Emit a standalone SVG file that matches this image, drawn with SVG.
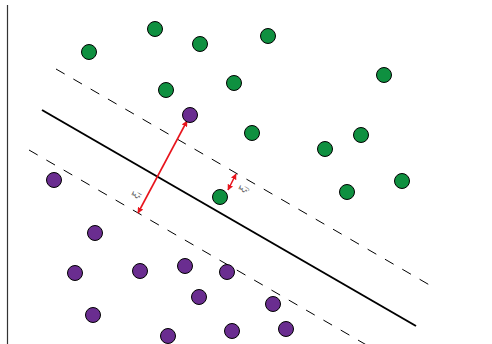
<svg xmlns="http://www.w3.org/2000/svg" width="492" height="344" viewBox="0 0 492 344">
<style>
.g{fill:#0f9040;stroke:#000;stroke-width:1}
.p{fill:#6a2d90;stroke:#000;stroke-width:1}
.dash{stroke:#000;stroke-width:1;stroke-dasharray:10 10;fill:none}
.red{stroke:#e8141c;stroke-width:1.6;fill:none;marker-start:url(#ah);marker-end:url(#ah)}
.lbl{font-family:"DejaVu Serif",serif;font-size:9px;fill:#555;font-style:italic}
</style>
<defs>
<marker id="ah" viewBox="0 0 10 10" refX="9" refY="5" markerWidth="6" markerHeight="6" orient="auto-start-reverse" markerUnits="userSpaceOnUse">
<path d="M0,0 L10,5 L0,10 z" fill="#e8141c"/>
</marker>
</defs>
<rect width="492" height="344" fill="#fff"/>
<g id="connectors">
<line x1="7.5" y1="5" x2="7.5" y2="344" stroke="#333" stroke-width="1.2"/>
<line x1="42" y1="110" x2="416" y2="326" stroke="#000" stroke-width="2"/>
<line class="dash" x1="56" y1="69" x2="433" y2="287"/>
<line class="dash" x1="29" y1="150" x2="370" y2="347"/>
<line class="red" x1="138" y1="213" x2="187" y2="121"/>
<line class="red" x1="228" y1="190" x2="236" y2="174"/>
</g>
<text class="lbl" transform="translate(137,199) rotate(-62)">ξ<tspan font-size="6" dy="2">i</tspan></text>
<text class="lbl" transform="translate(244,193) rotate(-62)">ξ<tspan font-size="6" dy="2">j</tspan></text>
<g id="green">
<circle id="g1" class="g" cx="89" cy="52" r="7.5"/>
<circle id="g2" class="g" cx="155" cy="29" r="7.5"/>
<circle id="g3" class="g" cx="200" cy="44" r="7.5"/>
<circle id="g4" class="g" cx="268" cy="36" r="7.5"/>
<circle id="g5" class="g" cx="384" cy="75" r="7.5"/>
<circle id="g6" class="g" cx="166" cy="90" r="7.5"/>
<circle id="g7" class="g" cx="234" cy="83" r="7.5"/>
<circle id="g8" class="g" cx="252" cy="133" r="7.5"/>
<circle id="g9" class="g" cx="325" cy="149" r="7.5"/>
<circle id="g10" class="g" cx="361" cy="135" r="7.5"/>
<circle id="g11" class="g" cx="347" cy="192" r="7.5"/>
<circle id="g12" class="g" cx="402" cy="181" r="7.5"/>
<circle id="g13" class="g" cx="220" cy="197" r="7.5"/>
</g>
<g id="purple">
<circle id="p1" class="p" cx="190" cy="115" r="7.5"/>
<circle id="p2" class="p" cx="54" cy="180" r="7.5"/>
<circle id="p3" class="p" cx="95" cy="233" r="7.5"/>
<circle id="p4" class="p" cx="75" cy="273" r="7.5"/>
<circle id="p5" class="p" cx="140" cy="271" r="7.5"/>
<circle id="p6" class="p" cx="185" cy="266" r="7.5"/>
<circle id="p7" class="p" cx="227" cy="272" r="7.5"/>
<circle id="p8" class="p" cx="199" cy="297" r="7.5"/>
<circle id="p9" class="p" cx="93" cy="315" r="7.5"/>
<circle id="p10" class="p" cx="168" cy="336" r="7.5"/>
<circle id="p11" class="p" cx="232" cy="331" r="7.5"/>
<circle id="p12" class="p" cx="273" cy="304" r="7.5"/>
<circle id="p13" class="p" cx="286" cy="329" r="7.5"/>
</g>
</svg>
